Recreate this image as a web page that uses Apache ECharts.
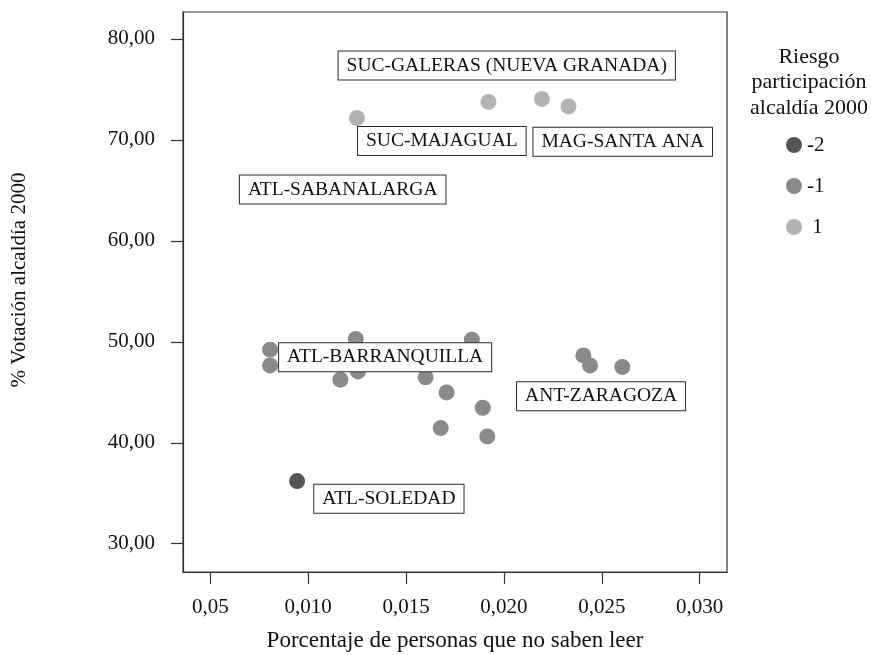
<!DOCTYPE html>
<html>
<head>
<meta charset="utf-8">
<script src="https://cdn.jsdelivr.net/npm/echarts@6/dist/echarts.min.js"></script>
<style>
  html, body { margin: 0; padding: 0; background: #ffffff; }
  #chart { width: 871px; height: 655px; }
</style>
</head>
<body>
<div id="chart"></div>
<script>
// ---- Data ----
const xTickValues = [0.005, 0.010, 0.015, 0.020, 0.025, 0.030];
const xTickLabels = ['0,05', '0,010', '0,015', '0,020', '0,025', '0,030'];
const yTickValues = [30, 40, 50, 60, 70, 80];
const yTickLabels = ['30,00', '40,00', '50,00', '60,00', '70,00', '80,00'];

const riskLevels = ['-2', '-1', '1'];
const legendTitle = 'Riesgo\nparticipación\nalcaldía 2000';
const xAxisTitle = 'Porcentaje de personas que no saben leer';
const yAxisTitle = '% Votación alcaldía 2000';

// [share of people who cannot read, % vote mayoralty 2000]
const riskMinus2 = [[0.00943, 36.21]];
const riskMinus1 = [
  [0.00805, 49.22], [0.00805, 47.66], [0.01243, 50.28], [0.01254, 47.07],
  [0.01164, 46.25], [0.01836, 50.21], [0.01600, 46.48], [0.01707, 44.99],
  [0.01892, 43.47], [0.01677, 41.46], [0.01915, 40.63], [0.02406, 48.65],
  [0.02440, 47.66], [0.02605, 47.51]
];
const riskPlus1 = [[0.01249, 72.17], [0.01921, 73.76], [0.02194, 74.06], [0.02330, 73.32]];

const annotationNames = ['SUC-GALERAS (NUEVA GRANADA)', 'SUC-MAJAGUAL', 'MAG-SANTA ANA',
  'ATL-SABANALARGA', 'ATL-BARRANQUILLA', 'ANT-ZARAGOZA', 'ATL-SOLEDAD'];
const annotationX = [0.020143, 0.016827, 0.026071, 0.011760, 0.013929, 0.024964, 0.014122];
const annotationY = [77.37, 69.90, 69.83, 65.10, 48.46, 44.61, 34.46];

// ---- Chart ----
const FONT = 'Liberation Serif';
const TEXT = '#111111';
const AXIS = '#333333';
const riskColors = ['#555555', '#8a8a8a', '#b3b3b3'];
const riskData = [riskMinus2, riskMinus1, riskPlus1];

const fmtTick = (values, labels) => (v) => {
  const i = values.findIndex(t => Math.abs(t - v) < 1e-9);
  return i >= 0 ? labels[i] : '';
};

const chart = echarts.init(document.getElementById('chart'), null, { renderer: 'canvas' });

const scatterSeries = riskLevels.map((lvl, i) => ({
  name: lvl,
  type: 'scatter',
  data: riskData[i],
  symbol: 'circle',
  symbolSize: 16,
  itemStyle: { color: riskColors[i], opacity: 1 },
  silent: true,
  z: 2
}));

const annotationSeries = {
  name: 'annotations',
  type: 'scatter',
  data: annotationNames.map((n, i) => ({ name: n, value: [annotationX[i], annotationY[i]] })),
  symbolSize: 1,
  itemStyle: { color: 'rgba(0,0,0,0)', opacity: 1 },
  silent: true,
  z: 5,
  label: {
    show: true,
    position: 'inside',
    formatter: (p) => p.name,
    fontFamily: FONT,
    fontSize: 19.5,
    lineHeight: 20,
    color: TEXT,
    opacity: 1,
    backgroundColor: '#ffffff',
    borderColor: '#2a2a2a',
    borderWidth: 1,
    padding: [4, 8, 4, 8]
  },
  emphasis: { disabled: true }
};

chart.setOption({
  animation: false,
  backgroundColor: '#ffffff',
  title: {
    text: legendTitle,
    left: 809,
    top: 44,
    padding: 0,
    textAlign: 'center',
    textStyle: { fontFamily: FONT, fontSize: 22, lineHeight: 25.5, fontWeight: 'normal', color: TEXT }
  },
  legend: {
    data: riskLevels,
    orient: 'vertical',
    left: 786,
    top: 134.5,
    padding: 0,
    itemWidth: 16,
    itemHeight: 16,
    itemGap: 20,
    icon: 'circle',
    selectedMode: false,
    formatter: (name) => (name.length === 1 ? ' ' + name : name),
    textStyle: { fontFamily: FONT, fontSize: 21, color: TEXT }
  },
  grid: {
    left: 183, top: 12, width: 544, height: 560,
    containLabel: false,
    outerBoundsMode: 'none',
    show: true, borderColor: AXIS, borderWidth: 1.2, backgroundColor: 'transparent'
  },
  xAxis: {
    type: 'value',
    min: 0.0036,
    max: 0.0314,
    name: xAxisTitle,
    nameLocation: 'middle',
    nameGap: 57,
    nameTextStyle: { fontFamily: FONT, fontSize: 23, color: TEXT },
    axisLine: { show: true, lineStyle: { color: AXIS, width: 1.2 } },
    axisTick: { show: true, length: 12, customValues: xTickValues, lineStyle: { color: AXIS, width: 1.2 } },
    axisLabel: {
      customValues: xTickValues,
      formatter: fmtTick(xTickValues, xTickLabels),
      margin: 25,
      fontFamily: FONT, fontSize: 21, lineHeight: 21, color: TEXT
    },
    splitLine: { show: false }
  },
  yAxis: {
    type: 'value',
    min: 27.2,
    max: 82.67,
    name: yAxisTitle,
    nameLocation: 'middle',
    nameGap: 153,
    nameTextStyle: { fontFamily: FONT, fontSize: 21, color: TEXT, padding: [0, 0, 0, 24] },
    axisLine: { show: true, lineStyle: { color: AXIS, width: 1.2 } },
    axisTick: { show: true, length: 12, customValues: yTickValues, lineStyle: { color: AXIS, width: 1.2 } },
    axisLabel: {
      customValues: yTickValues,
      formatter: fmtTick(yTickValues, yTickLabels),
      margin: 28,
      fontFamily: FONT, fontSize: 21, color: TEXT
    },
    splitLine: { show: false }
  },
  series: [...scatterSeries, annotationSeries]
});
</script>
</body>
</html>
